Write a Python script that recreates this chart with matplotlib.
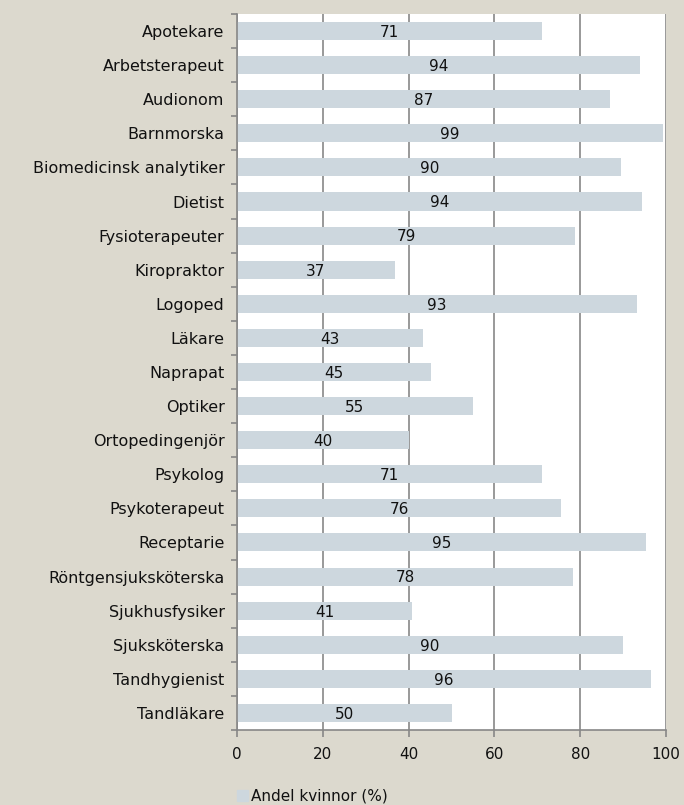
import matplotlib.pyplot as plt
from matplotlib.patches import Patch

categories = [
    "Apotekare", "Arbetsterapeut", "Audionom", "Barnmorska",
    "Biomedicinsk analytiker", "Dietist", "Fysioterapeuter", "Kiropraktor",
    "Logoped", "Läkare", "Naprapat", "Optiker", "Ortopedingenjör",
    "Psykolog", "Psykoterapeut", "Receptarie", "Röntgensjuksköterska",
    "Sjukhusfysiker", "Sjuksköterska", "Tandhygienist", "Tandläkare",
]
values = [
    71.0, 94.0, 87.0, 99.4, 89.6, 94.3, 78.8, 36.8, 93.2, 43.3, 45.2,
    55.0, 40.1, 71.0, 75.6, 95.4, 78.4, 40.9, 90.0, 96.4, 50.0,
]
labels = [
    71, 94, 87, 99, 90, 94, 79, 37, 93, 43, 45,
    55, 40, 71, 76, 95, 78, 41, 90, 96, 50,
]
x_ticks = [0, 20, 40, 60, 80, 100]
series_name = "Andel kvinnor (%)"

bg = "#dcd9ce"
bar_color = "#cdd7de"
grid_color = "#878787"
text_color = "#111111"

plt.rcParams["font.family"] = ["DejaVu Sans"]

fig = plt.figure(figsize=(6.84, 8.05), dpi=100, facecolor=bg)
ax = fig.add_axes([0.3465, 0.0932, 0.6272, 0.8894])
ax.set_facecolor("white")

ypos = list(range(len(categories)))
ax.barh(ypos, values, height=0.53, color=bar_color, zorder=2)

for y, v, lab in zip(ypos, values, labels):
    ax.text(v / 2, y + 0.04, str(lab), ha="center", va="center",
            fontsize=11, color=text_color, zorder=3)

ax.set_xlim(0, 100)
ax.set_ylim(len(categories) - 0.5, -0.5)
ax.set_xticks(x_ticks)
ax.set_xticklabels([str(t) for t in x_ticks], fontsize=11, color=text_color)
ax.set_yticks(ypos)
ax.set_yticklabels(categories, fontsize=11.5, color=text_color)
ax.set_yticks([i - 0.5 for i in range(len(categories) + 1)], minor=True)

ax.tick_params(axis="y", which="major", length=0, pad=9)
ax.tick_params(axis="y", which="minor", length=4, width=1.2, color=grid_color)
ax.tick_params(axis="x", length=5, width=1.2, color=grid_color, pad=7)

ax.grid(axis="x", color=grid_color, linewidth=1.2, zorder=1)
ax.set_axisbelow(True)
for side in ["top", "right"]:
    ax.spines[side].set_visible(False)
for side in ["left", "bottom"]:
    ax.spines[side].set_color(grid_color)
    ax.spines[side].set_linewidth(1.2)

handle = Patch(color=bar_color, label=series_name)
fig.legend(handles=[handle], loc="center left", bbox_to_anchor=(0.338, 0.011),
           frameon=False, fontsize=11, handlelength=0.7, handleheight=0.7,
           handletextpad=0.2, borderaxespad=0, labelcolor=text_color)

fig.savefig("out.png", dpi=100, facecolor=bg)
